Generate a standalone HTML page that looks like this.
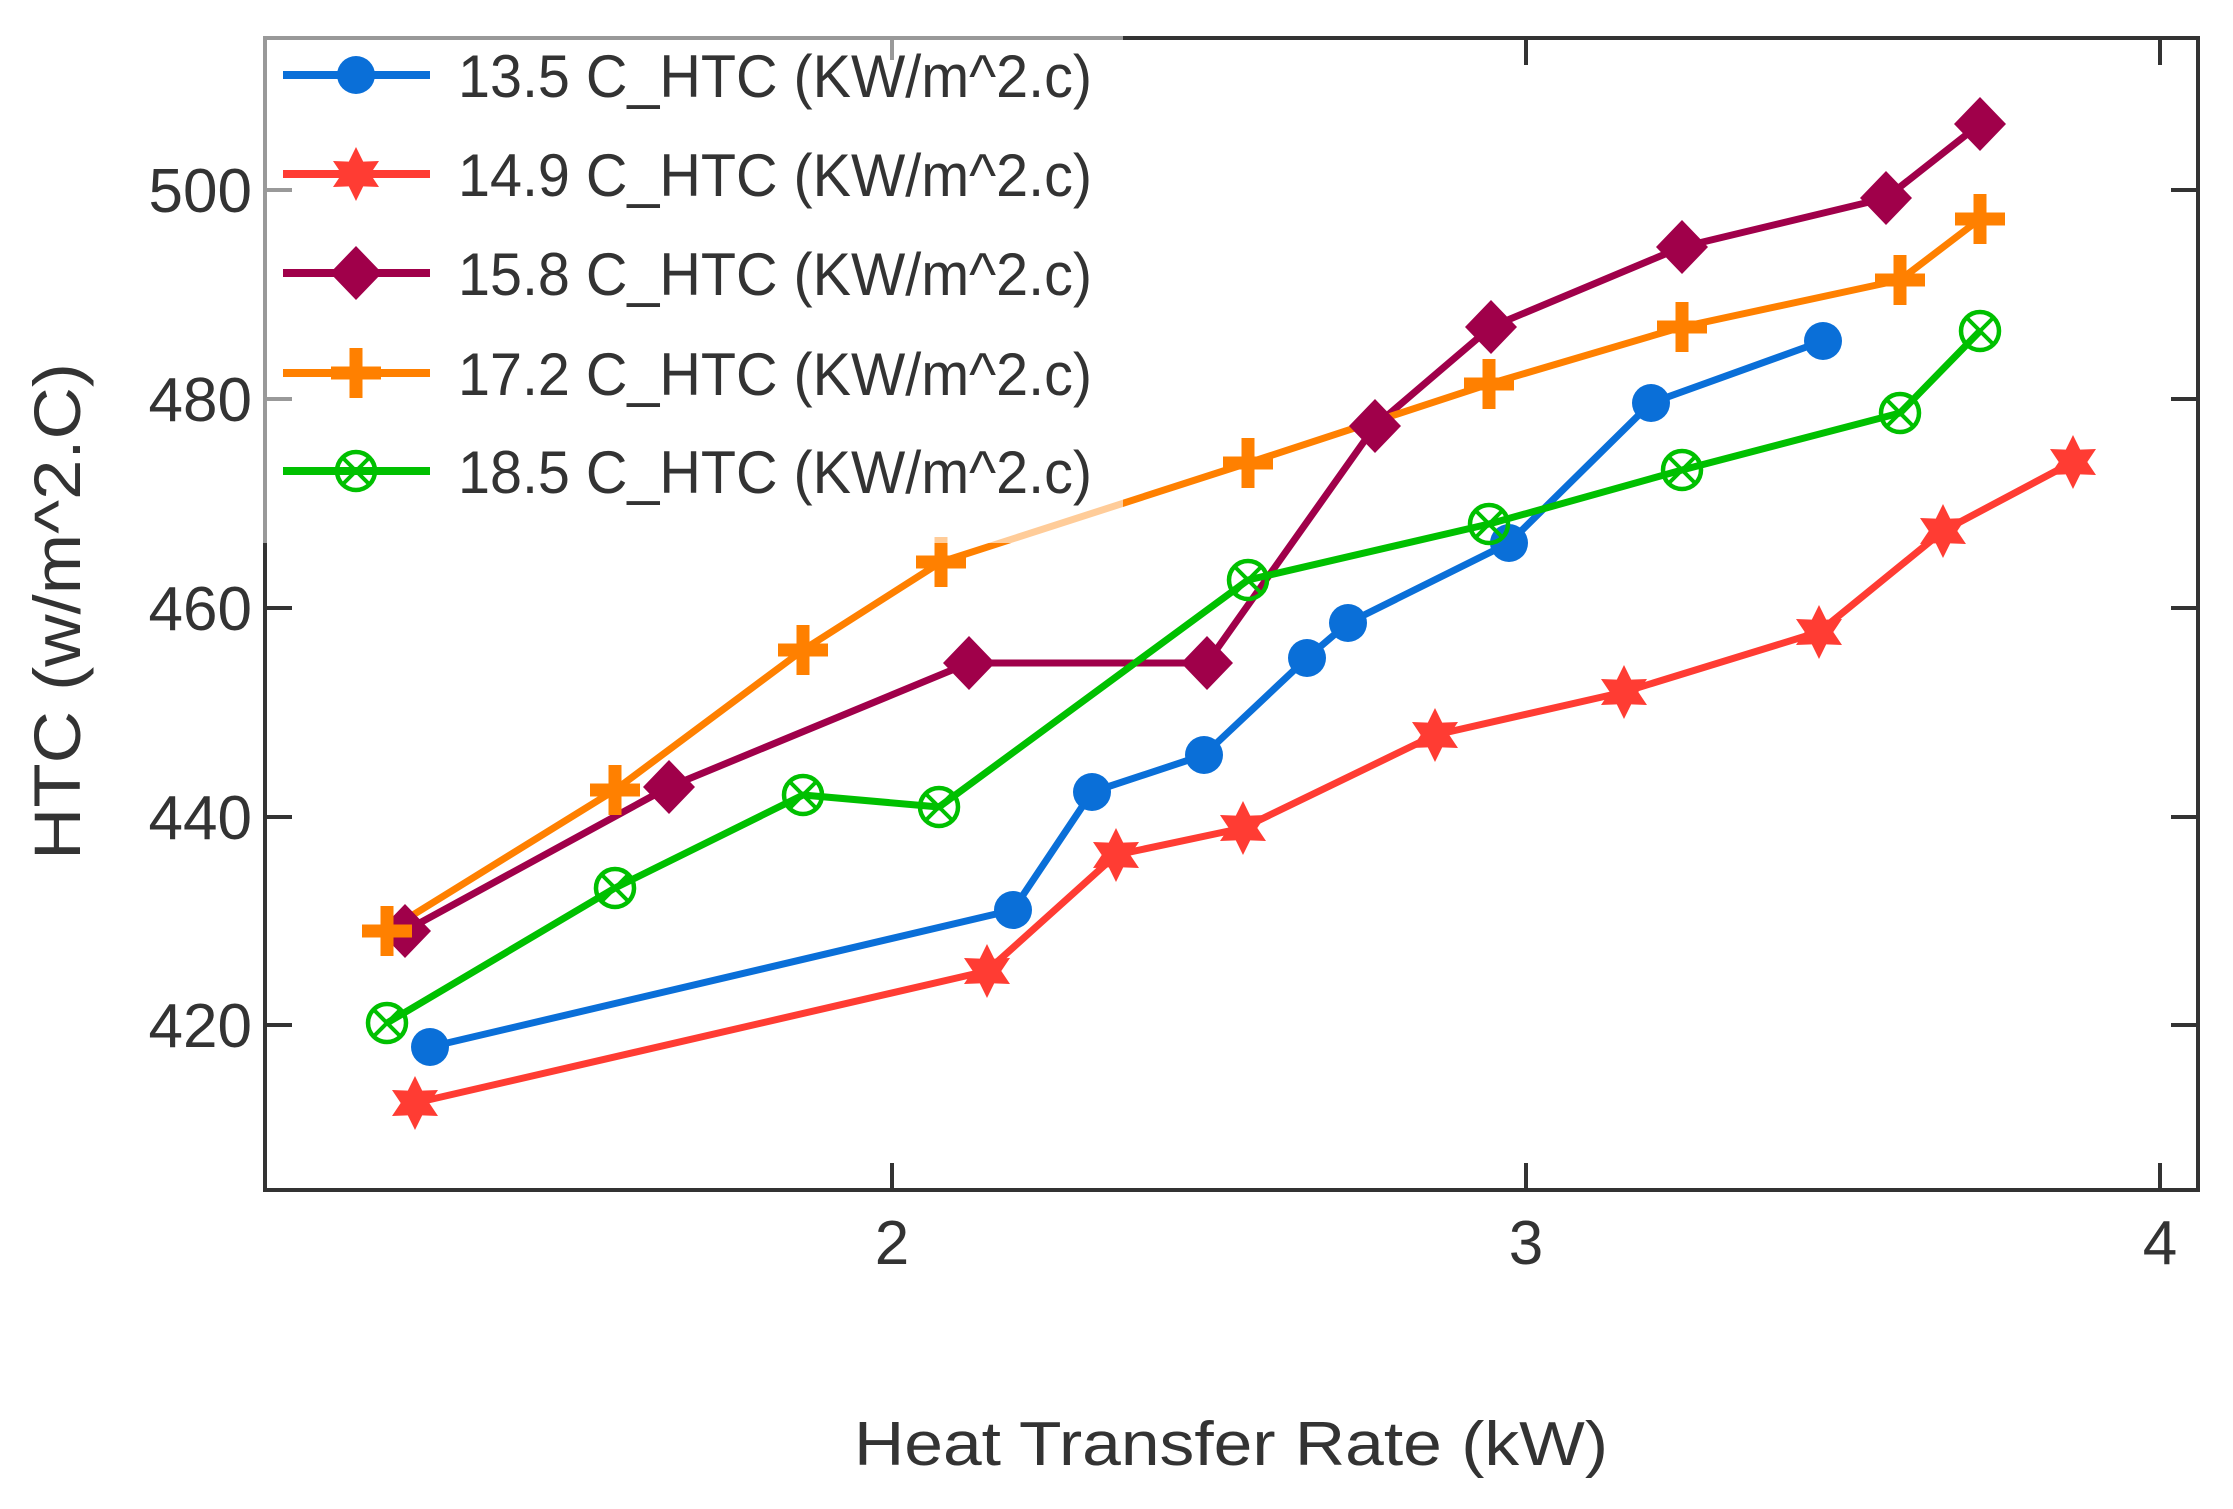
<!DOCTYPE html>
<html><head><meta charset="utf-8"><style>html,body{margin:0;padding:0;background:#fff}svg{display:block}</style></head>
<body>
<svg width="2233" height="1509" viewBox="0 0 2233 1509" xmlns="http://www.w3.org/2000/svg" font-family="'Liberation Sans', sans-serif">
<defs>
<g id="circ"><circle r="19" fill="#0a6fd8"/></g>
<g id="star"><polygon points="0,-27 7.2,-12.4 23,-13 14.3,0 23,13 7.2,12.4 0,27 -7.2,12.4 -23,13 -14.3,0 -23,-13 -7.2,-12.4" fill="#ff3c33"/></g>
<g id="dia"><polygon points="0,-27 26,0 0,27 -26,0" fill="#a0004a"/></g>
<g id="plus"><rect x="-25" y="-6.5" width="50" height="13" fill="#ff8000"/><rect x="-6.5" y="-25" width="13" height="50" fill="#ff8000"/></g>
<g id="ox"><circle r="19" fill="none" stroke="#00c000" stroke-width="4.5"/><path d="M-13,-13L13,13M-13,13L13,-13" stroke="#00c000" stroke-width="4"/></g>
</defs>

<!-- frame -->
<g stroke="#333" stroke-width="4" fill="none">
<line x1="265" y1="543" x2="265" y2="1190"/>
<line x1="263" y1="1190" x2="2200" y2="1190"/>
<line x1="2198" y1="37" x2="2198" y2="1192"/>
<line x1="1123" y1="38" x2="2200" y2="38"/>
<!-- y ticks -->
<line x1="265" y1="608" x2="292" y2="608"/><line x1="265" y1="817" x2="292" y2="817"/><line x1="265" y1="1025" x2="292" y2="1025"/>
<line x1="2198" y1="190" x2="2171" y2="190"/><line x1="2198" y1="399" x2="2171" y2="399"/><line x1="2198" y1="608" x2="2171" y2="608"/><line x1="2198" y1="817" x2="2171" y2="817"/><line x1="2198" y1="1025" x2="2171" y2="1025"/>
<!-- x ticks -->
<line x1="892" y1="1190" x2="892" y2="1163"/><line x1="1526" y1="1190" x2="1526" y2="1163"/><line x1="2160" y1="1190" x2="2160" y2="1163"/>
<line x1="1526" y1="38" x2="1526" y2="65"/><line x1="2160" y1="38" x2="2160" y2="65"/>
</g>

<!-- series -->
<g fill="none" stroke-width="7" stroke-linejoin="round">
<polyline stroke="#0a6fd8" points="430,1047 1013,910 1092,792 1204,755 1307,658 1348,623 1509,543 1651,403 1823,341"/>
<polyline stroke="#ff3c33" points="415,1103 987,971 1116,855 1243,828 1435,735 1624,692 1819,632 1943,531 2073,462"/>
<polyline stroke="#a0004a" points="405,931 669,787 969,663 1207,663 1375,426 1491,327 1682,247 1886,198 1980,124"/>
<polyline stroke="#ff8000" points="387,931 615,790 803,650 941,562 1248,463 1489,384 1682,327 1900,280 1980,219"/>
<polyline stroke="#00c000" points="387,1023 615,888 803,795 939,807 1248,580 1489,524 1682,470 1900,413 1980,331"/>
</g>
<g>
<use href="#circ" x="430" y="1047"/><use href="#circ" x="1013" y="910"/><use href="#circ" x="1092" y="792"/><use href="#circ" x="1204" y="755"/><use href="#circ" x="1307" y="658"/><use href="#circ" x="1348" y="623"/><use href="#circ" x="1509" y="543"/><use href="#circ" x="1651" y="403"/><use href="#circ" x="1823" y="341"/>
<use href="#star" x="415" y="1103"/><use href="#star" x="987" y="971"/><use href="#star" x="1116" y="855"/><use href="#star" x="1243" y="828"/><use href="#star" x="1435" y="735"/><use href="#star" x="1624" y="692"/><use href="#star" x="1819" y="632"/><use href="#star" x="1943" y="531"/><use href="#star" x="2073" y="462"/>
<use href="#dia" x="405" y="931"/><use href="#dia" x="669" y="787"/><use href="#dia" x="969" y="663"/><use href="#dia" x="1207" y="663"/><use href="#dia" x="1375" y="426"/><use href="#dia" x="1491" y="327"/><use href="#dia" x="1682" y="247"/><use href="#dia" x="1886" y="198"/><use href="#dia" x="1980" y="124"/>
<use href="#plus" x="387" y="931"/><use href="#plus" x="615" y="790"/><use href="#plus" x="803" y="650"/><use href="#plus" x="941" y="562"/><use href="#plus" x="1248" y="463"/><use href="#plus" x="1489" y="384"/><use href="#plus" x="1682" y="327"/><use href="#plus" x="1900" y="280"/><use href="#plus" x="1980" y="219"/>
<use href="#ox" x="387" y="1023"/><use href="#ox" x="615" y="888"/><use href="#ox" x="803" y="795"/><use href="#ox" x="939" y="807"/><use href="#ox" x="1248" y="580"/><use href="#ox" x="1489" y="524"/><use href="#ox" x="1682" y="470"/><use href="#ox" x="1900" y="413"/><use href="#ox" x="1980" y="331"/>
</g>

<!-- legend -->
<rect x="265" y="38" width="858" height="505" fill="#fff" fill-opacity="0.6"/>
<g stroke="#999" stroke-width="4" fill="none">
<line x1="263" y1="38" x2="1123" y2="38"/>
<line x1="265" y1="37" x2="265" y2="543"/>
<line x1="265" y1="190" x2="292" y2="190"/><line x1="265" y1="399" x2="292" y2="399"/>
<line x1="892" y1="38" x2="892" y2="60"/>
</g>
<g stroke-width="8">
<line x1="283" y1="75" x2="430" y2="75" stroke="#0a6fd8"/>
<line x1="283" y1="174" x2="430" y2="174" stroke="#ff3c33"/>
<line x1="283" y1="273" x2="430" y2="273" stroke="#a0004a"/>
<line x1="283" y1="373" x2="430" y2="373" stroke="#ff8000"/>
<line x1="283" y1="471" x2="430" y2="471" stroke="#00c000"/>
</g>
<use href="#circ" x="356" y="75"/><use href="#star" x="356" y="174"/><use href="#dia" x="356" y="273"/><use href="#plus" x="356" y="373"/><use href="#ox" x="356" y="471"/>
<g fill="#333" font-size="60">
<text x="458" y="97" textLength="634" lengthAdjust="spacingAndGlyphs">13.5 C_HTC (KW/m^2.c)</text>
<text x="458" y="196" textLength="634" lengthAdjust="spacingAndGlyphs">14.9 C_HTC (KW/m^2.c)</text>
<text x="458" y="295" textLength="634" lengthAdjust="spacingAndGlyphs">15.8 C_HTC (KW/m^2.c)</text>
<text x="458" y="395" textLength="634" lengthAdjust="spacingAndGlyphs">17.2 C_HTC (KW/m^2.c)</text>
<text x="458" y="493" textLength="634" lengthAdjust="spacingAndGlyphs">18.5 C_HTC (KW/m^2.c)</text>
</g>

<!-- tick labels -->
<g fill="#333" font-size="62" text-anchor="end">
<text x="252" y="212">500</text>
<text x="252" y="421">480</text>
<text x="252" y="630">460</text>
<text x="252" y="839">440</text>
<text x="252" y="1047">420</text>
</g>
<g fill="#333" font-size="62" text-anchor="middle">
<text x="892" y="1264">2</text>
<text x="1526" y="1264">3</text>
<text x="2160" y="1264">4</text>
</g>
<text x="854" y="1465" font-size="62" fill="#333" textLength="754" lengthAdjust="spacingAndGlyphs">Heat Transfer Rate (kW)</text>
<text transform="translate(80,860) rotate(-90)" x="0" y="0" font-size="66" fill="#333" textLength="497" lengthAdjust="spacingAndGlyphs">HTC (w/m^2.C)</text>
</svg>
</body></html>
